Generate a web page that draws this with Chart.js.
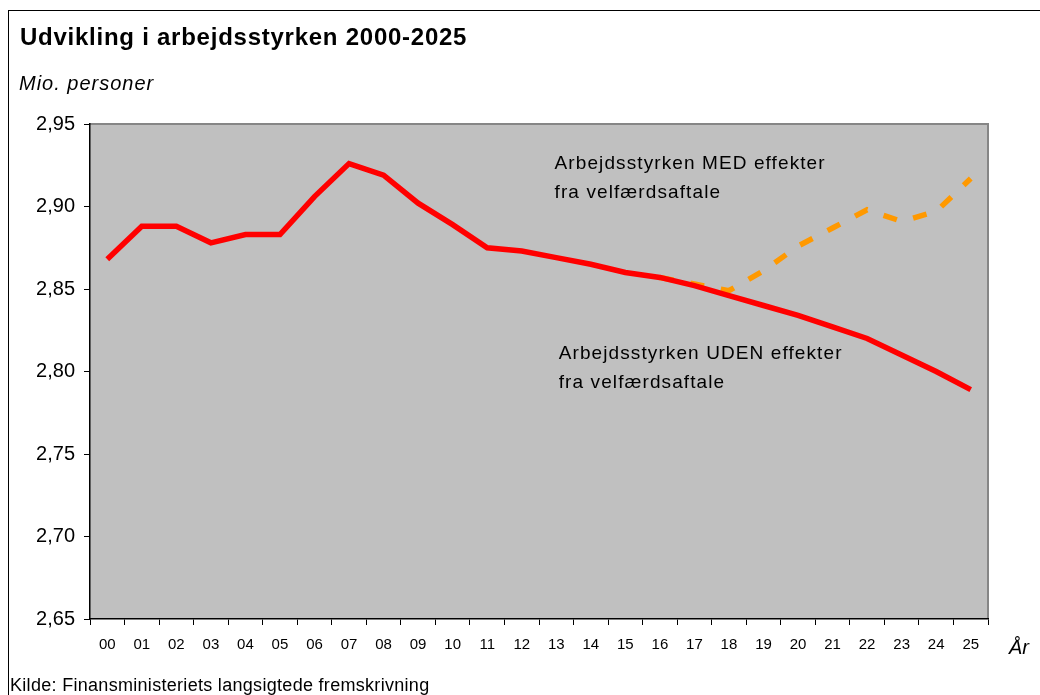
<!DOCTYPE html>
<html>
<head>
<meta charset="utf-8">
<script src="https://cdn.jsdelivr.net/npm/chart.js@4"></script>
<style>
  body { margin: 0; background: #fff; font-family: "Liberation Sans", Arial, sans-serif; }
  #wrap { position: relative; width: 1040px; height: 695px; overflow: hidden; }
  #frame { position: absolute; left: 8px; top: 10px; width: 1100px; height: 800px; border-left: 1px solid #000; border-top: 1px solid #000; }
  .txt { position: absolute; white-space: nowrap; color: #000; }
  #title { left: 20px; top: 23px; font-size: 24px; font-weight: bold; letter-spacing: 0.75px; }
  #unit { left: 19px; top: 72px; font-size: 20px; font-style: italic; letter-spacing: 1px; }
  #aar { left: 1009px; top: 636px; font-size: 20px; font-style: italic; }
  #kilde { left: 10px; top: 675px; font-size: 18px; letter-spacing: 0.3px; }
  canvas { position: absolute; left: 0; top: 0; }
</style>
</head>
<body>
<div id="wrap">
  <div id="frame"></div>
  <canvas id="chart" width="1040" height="695"></canvas>
  <div class="txt" id="title">Udvikling i arbejdsstyrken 2000-2025</div>
  <div class="txt" id="unit">Mio. personer</div>
  <div class="txt" id="aar">År</div>
  <div class="txt" id="kilde">Kilde: Finansministeriets langsigtede fremskrivning</div>
</div>
<script>
document.addEventListener('DOMContentLoaded', function() {

// år (to cifre)
const aar = ["00","01","02","03","04","05","06","07","08","09","10","11","12",
             "13","14","15","16","17","18","19","20","21","22","23","24","25"];

// arbejdsstyrken uden effekter af velfærdsaftalen (mio. personer)
const udenEffekter = [2.868, 2.888, 2.888, 2.878, 2.883, 2.883, 2.906, 2.926, 2.919, 2.902,
                      2.889, 2.875, 2.873, 2.869, 2.865, 2.860, 2.857, 2.852, 2.846, 2.840,
                      2.834, 2.827, 2.820, 2.810, 2.800, 2.789];

// arbejdsstyrken med effekter (kun fra 2016)
const medEffekter = [null, null, null, null, null, null, null, null, null, null,
                     null, null, null, null, null, null, 2.857, 2.853, 2.849, 2.861,
                     2.876, 2.887, 2.898, 2.891, 2.897, 2.917];

const yTicks = [2.65, 2.70, 2.75, 2.80, 2.85, 2.90, 2.95];

const tekster = [
  { linjer: ["Arbejdsstyrken MED effekter", "fra velfærdsaftale"], idx: 12.95, v: 2.926 },
  { linjer: ["Arbejdsstyrken UDEN effekter", "fra velfærdsaftale"], idx: 13.07, v: 2.811 }
];

const fmt = v => v.toFixed(2).replace('.', ',');

// grå plotflade + ramme
const baggrund = {
  id: 'baggrund',
  beforeDraw(chart) {
    const { ctx, chartArea: a } = chart;
    ctx.save();
    ctx.fillStyle = '#C0C0C0';
    ctx.fillRect(a.left, a.top, a.right - a.left, a.bottom - a.top);
    ctx.strokeStyle = '#868686';
    ctx.lineWidth = 2;
    ctx.beginPath();
    ctx.moveTo(a.left, a.top);
    ctx.lineTo(a.right, a.top);
    ctx.lineTo(a.right, a.bottom);
    ctx.stroke();
    ctx.restore();
  }
};

// tekster inde i plottet
const etiketter = {
  id: 'etiketter',
  afterDatasetsDraw(chart) {
    const { ctx, scales } = chart;
    ctx.save();
    ctx.fillStyle = '#000';
    ctx.font = '19px "Liberation Sans", Arial, sans-serif';
    ctx.letterSpacing = '1.1px';
    ctx.textBaseline = 'middle';
    tekster.forEach(t => {
      const x = scales.x.getPixelForValue(t.idx);
      const y = scales.y.getPixelForValue(t.v);
      t.linjer.forEach((l, i) => ctx.fillText(l, x, y + i * 29));
    });
    ctx.restore();
  }
};

const ctx = document.getElementById('chart').getContext('2d');
new Chart(ctx, {
  type: 'line',
  data: {
    labels: aar,
    datasets: [
      {
        label: 'Arbejdsstyrken UDEN effekter',
        data: udenEffekter,
        borderColor: '#FF0000',
        borderWidth: 5.5,
        pointRadius: 0,
        tension: 0,
        order: 1
      },
      {
        label: 'Arbejdsstyrken MED effekter',
        data: medEffekter,
        borderColor: '#FF9900',
        borderWidth: 5.5,
        borderDash: [14, 17],
        pointRadius: 0,
        tension: 0,
        spanGaps: false,
        order: 2
      }
    ]
  },
  options: {
    responsive: false,
    animation: false,
    layout: { padding: { left: 0, top: 124, right: 52, bottom: 36 } },
    plugins: {
      legend: { display: false },
      title: { display: false },
      tooltip: { enabled: false }
    },
    scales: {
      x: {
        offset: true,
        grid: { offset: true, drawOnChartArea: false, drawTicks: true, tickLength: 6, color: '#000' },
        border: { color: '#000', width: 1.5 },
        ticks: { color: '#000', font: { size: 15, family: '"Liberation Sans", Arial' }, padding: 11, maxRotation: 0, autoSkip: false },
        afterFit(s) { s.height = 40; }
      },
      y: {
        min: 2.65,
        max: 2.95,
        afterBuildTicks(s) { s.ticks = yTicks.map(v => ({ value: v })); },
        grid: { drawOnChartArea: false, drawTicks: true, tickLength: 6, color: '#000' },
        border: { color: '#000', width: 1.5 },
        ticks: { color: '#000', font: { size: 20, family: '"Liberation Sans", Arial' }, padding: 9, callback: v => fmt(v) },
        afterFit(s) { s.width = 90; }
      }
    }
  },
  plugins: [baggrund, etiketter]
});

});
</script>
</body>
</html>
